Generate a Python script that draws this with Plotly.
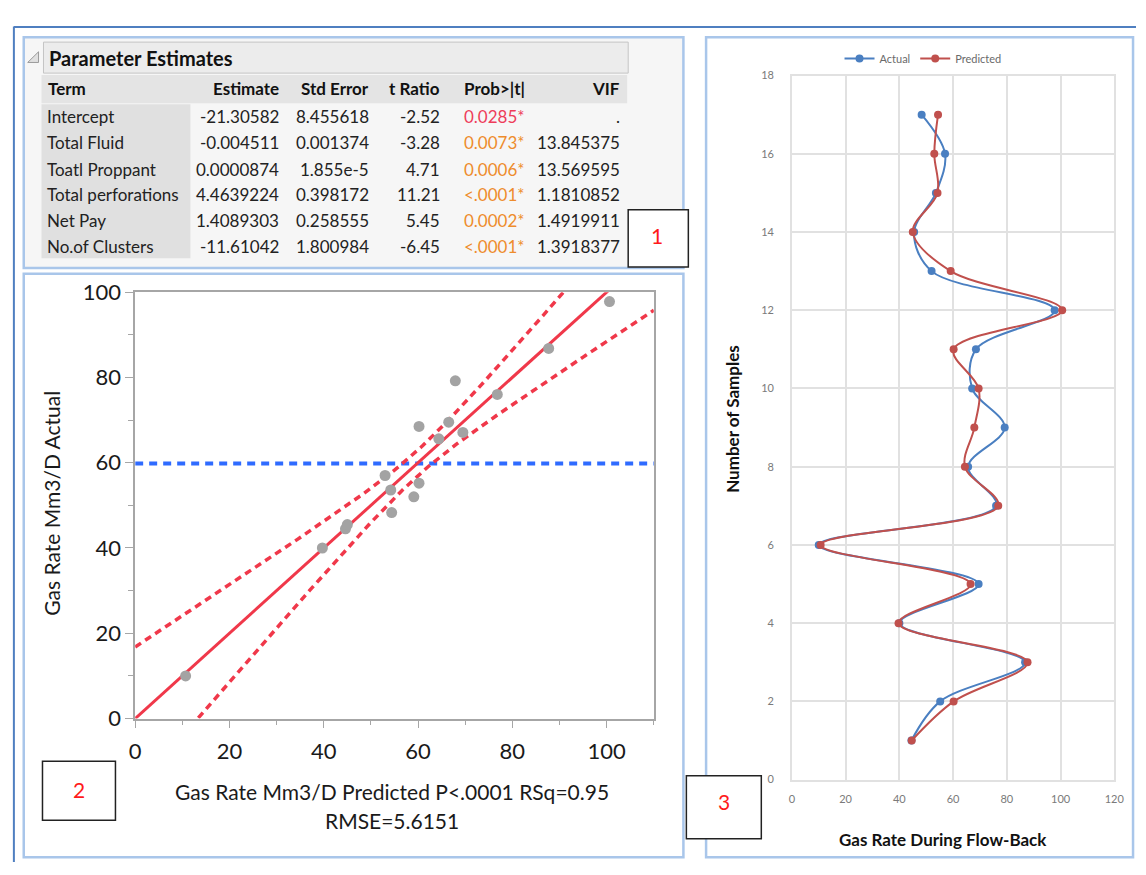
import numpy as np
import plotly.graph_objects as go

W, H = 1146, 875

# ---- well data: actual vs model-predicted gas rate (Mm3/D) for each sample ----
sample_no = list(range(1, 18))
actual = [44.5, 55.2, 86.8, 40.0, 69.5, 10.0, 76.0, 65.6, 79.2, 67.1, 68.5, 97.8, 52.0, 45.5, 53.6, 57.0, 48.3]
predicted = [44.6, 60.2, 87.7, 39.7, 66.5, 10.7, 76.8, 64.4, 67.9, 69.5, 60.2, 100.6, 59.1, 45.0, 54.2, 53.0, 54.4]

# ---- regression parameter estimates ----
terms = ["Intercept", "Total Fluid", "Toatl Proppant", "Total perforations", "Net Pay", "No.of Clusters"]
estimates = ["-21.30582", "-0.004511", "0.0000874", "4.4639224", "1.4089303", "-11.61042"]
std_errors = ["8.455618", "0.001374", "1.855e-5", "0.398172", "0.258555", "1.800984"]
t_ratios = ["-2.52", "-3.28", "4.71", "11.21", "5.45", "-6.45"]
p_values = ["0.0285*", "0.0073*", "0.0006*", "<.0001*", "0.0002*", "<.0001*"]
vifs = [".", "13.845375", "13.569595", "1.1810852", "1.4919911", "1.3918377"]
columns = ["Term", "Estimate", "Std Error", "t Ratio", "Prob>|t|", "VIF"]

# ---- model fit summary ----
rsq = 0.95
rmse = 5.6151
n_model_terms = 5
t_crit = 2.201     # t(0.025, 11 df)
f_crit = 3.204     # F(0.05; 5, 11)

FONT = "Lato"


def px(x):
    return x / W


def py(y):
    return 1 - y / H


fig = go.Figure()

# ---- leverage plot: actual by predicted ----
n = len(actual)
dfe = n - n_model_terms - 1
f_ratio = (rsq / n_model_terms) / ((1 - rsq) / dfe)
x_mean = float(np.mean(predicted))
y_mean = float(np.mean(actual))
grid = np.linspace(0, 110, 221)
half = np.sqrt((t_crit * rmse) ** 2 / n + (f_crit / f_ratio) * (grid - x_mean) ** 2)

fig.add_trace(go.Scatter(x=[0, 110], y=[y_mean, y_mean], mode="lines",
                         line=dict(color="#2f6bff", width=4, dash="8px,6px"),
                         showlegend=False, hoverinfo="skip", xaxis="x", yaxis="y"))
fig.add_trace(go.Scatter(x=grid, y=grid + half, mode="lines",
                         line=dict(color="#f0384a", width=3.5, dash="7px,5px"),
                         showlegend=False, hoverinfo="skip", xaxis="x", yaxis="y"))
fig.add_trace(go.Scatter(x=grid, y=grid - half, mode="lines",
                         line=dict(color="#f0384a", width=3.5, dash="7px,5px"),
                         showlegend=False, hoverinfo="skip", xaxis="x", yaxis="y"))
fig.add_trace(go.Scatter(x=[0, 110], y=[0, 110], mode="lines",
                         line=dict(color="#f0384a", width=3),
                         showlegend=False, hoverinfo="skip", xaxis="x", yaxis="y"))
fig.add_trace(go.Scatter(x=predicted, y=actual, mode="markers",
                         marker=dict(color="#a3a3a3", size=11),
                         showlegend=False, xaxis="x", yaxis="y"))

# ---- gas rate profile by sample ----
fig.add_trace(go.Scatter(x=actual, y=sample_no, mode="lines+markers", name="Actual",
                         line=dict(color="#4a7fc1", width=2, shape="spline", smoothing=1.0),
                         marker=dict(color="#4a7fc1", size=8),
                         xaxis="x2", yaxis="y2"))
fig.add_trace(go.Scatter(x=predicted, y=sample_no, mode="lines+markers", name="Predicted",
                         line=dict(color="#c0504d", width=2, shape="spline", smoothing=1.0),
                         marker=dict(color="#c0504d", size=8),
                         xaxis="x2", yaxis="y2"))

shapes = []
annotations = []


def rect(x0, y0, x1, y1, line_color=None, width=1, fill=None, layer="above"):
    shapes.append(dict(type="rect", xref="paper", yref="paper",
                       x0=px(x0), x1=px(x1), y0=py(y1), y1=py(y0),
                       line=dict(color=line_color or "rgba(0,0,0,0)", width=width if line_color else 0),
                       fillcolor=fill or "rgba(0,0,0,0)", layer=layer))


def line(x0, y0, x1, y1, color, width):
    shapes.append(dict(type="line", xref="paper", yref="paper",
                       x0=px(x0), x1=px(x1), y0=py(y0), y1=py(y1),
                       line=dict(color=color, width=width)))


def text(s, x, y, size, color="#1a1a1a", bold=False, xanchor="left", angle=0, family=FONT):
    annotations.append(dict(text=f"<b>{s}</b>" if bold else s, x=px(x), y=py(y),
                            xref="paper", yref="paper", xanchor=xanchor, yanchor="middle",
                            showarrow=False, textangle=angle,
                            font=dict(family=family, size=size, color=color)))


# outer frame
line(8, 13.5, W, 13.5, "#4f7fc0", 2)
line(8, 13, 8, H, "#4f7fc0", 2)

# panel 1 (parameter table)
rect(18, 24, 687, 262, fill="#f6f6f6", layer="below")
rect(38, 29, 631, 61, line_color="#c4c4c4", width=1, fill="#ececec", layer="below")
rect(36, 63, 630, 92, fill="#e4e4e4", layer="below")
rect(36, 93, 187, 252, fill="#e0e0e0", layer="below")
rect(18, 24, 687, 262, line_color="#a9c6ea", width=2.5)
shapes.append(dict(type="path", xref="paper", yref="paper",
                   path=f"M {px(22)},{py(50)} L {px(33)},{py(39)} L {px(33)},{py(50)} Z",
                   line=dict(color="#9a9a9a", width=1), fillcolor="#e0e0e0"))
text("Parameter Estimates", 42, 45, 20, "#111111", bold=True)

# panel 2 and 3 frames
rect(18, 268, 687, 870, line_color="#a9c6ea", width=2.5)
rect(710, 24, 1143, 870, line_color="#a9c6ea", width=2.5)

# table header
col_right = [None, 279, 370, 442, 528, 625]
for j, c in enumerate(columns):
    if j == 0:
        text(c, 41, 77, 17, "#111111", bold=True)
    else:
        text(c, col_right[j], 77, 17, "#111111", bold=True, xanchor="right")

row_y = [106, 133, 160, 186, 213, 240]
for i, term in enumerate(terms):
    y = row_y[i]
    text(term, 40, y, 17, "#222222")
    text(estimates[i], col_right[1], y, 17, "#222222", xanchor="right")
    text(std_errors[i], col_right[2], y, 17, "#222222", xanchor="right")
    text(t_ratios[i], col_right[3], y, 17, "#222222", xanchor="right")
    p_col = "#ee3d5a" if i == 0 else "#ee8c2c"
    text(p_values[i], col_right[4], y, 17, p_col, xanchor="right")
    text(vifs[i], col_right[5], y, 17, "#222222", xanchor="right")

# leverage plot titles
text("Gas Rate Mm3/D Actual", 46, 505, 21, "#1a1a1a", xanchor="center", angle=-90)
text("Gas Rate Mm3/D Predicted P<.0001 RSq=0.95", 391, 802, 21, "#1a1a1a", xanchor="center")
text("RMSE=5.6151", 391, 832, 21, "#1a1a1a", xanchor="center")

# profile chart titles
text("Number of Samples", 736, 418, 17, "#111111", bold=True, xanchor="center", angle=-90)
text("Gas Rate During Flow-Back", 950, 852, 17, "#111111", bold=True, xanchor="center")

# numbered callout boxes
rect(631, 202, 692, 261, line_color="#222222", width=1.5, fill="#ffffff")
text("1", 660, 229, 21, "#ff1a1a", xanchor="center")
rect(37, 771, 111, 832, line_color="#222222", width=1.5, fill="#ffffff")
text("2", 74, 800, 21, "#ff1a1a", xanchor="center")
rect(690, 786, 766, 851, line_color="#222222", width=1.5, fill="#ffffff")
text("3", 728, 813, 21, "#ff1a1a", xanchor="center")

fig.update_layout(
    width=W, height=H,
    margin=dict(l=0, r=0, t=0, b=0),
    paper_bgcolor="#ffffff",
    plot_bgcolor="#ffffff",
    font=dict(family=FONT),
    shapes=shapes,
    annotations=annotations,
    xaxis=dict(domain=[px(131), px(657)], range=[0, 110], anchor="y",
               tickvals=[0, 20, 40, 60, 80, 100], ticks="outside", ticklen=8,
               tickcolor="#a6a6a6", tickfont=dict(size=22, color="#1a1a1a"),
               minor=dict(dtick=10, tick0=0, ticks="outside", ticklen=5, tickcolor="#a6a6a6"),
               showline=True, linecolor="#a6a6a6", linewidth=1.5, mirror=True,
               showgrid=False, zeroline=False, ticklabelstandoff=4),
    yaxis=dict(domain=[py(727), py(287)], range=[0, 100], anchor="x",
               tickvals=[0, 20, 40, 60, 80, 100], ticks="outside", ticklen=8,
               tickcolor="#a6a6a6", tickfont=dict(size=22, color="#1a1a1a"),
               minor=dict(dtick=10, tick0=0, ticks="outside", ticklen=5, tickcolor="#a6a6a6"),
               showline=True, linecolor="#a6a6a6", linewidth=1.5, mirror=True,
               showgrid=False, zeroline=False),
    xaxis2=dict(domain=[px(797), px(1124)], range=[0, 120], anchor="y2", dtick=20,
                showgrid=True, gridcolor="#e1e1e1", gridwidth=1.5,
                showline=True, linecolor="#e1e1e1", linewidth=1.5, mirror=True,
                zeroline=False, ticks="outside", ticklen=8, tickcolor="rgba(0,0,0,0)",
                tickfont=dict(size=11, color="#7a7a7a")),
    yaxis2=dict(domain=[py(790), py(63.5)], range=[0, 18], anchor="x2", dtick=2,
                showgrid=True, gridcolor="#e1e1e1", gridwidth=1.5,
                showline=True, linecolor="#e1e1e1", linewidth=1.5, mirror=True,
                zeroline=False, ticks="outside", ticklen=14, tickcolor="rgba(0,0,0,0)",
                tickfont=dict(size=11, color="#7a7a7a")),
    legend=dict(orientation="h", x=px(930), y=py(46), xanchor="center", yanchor="middle",
                font=dict(size=11, color="#6a6a6a"), bgcolor="rgba(0,0,0,0)",
                itemwidth=30, tracegroupgap=0),
)

fig.write_html("out.html")
